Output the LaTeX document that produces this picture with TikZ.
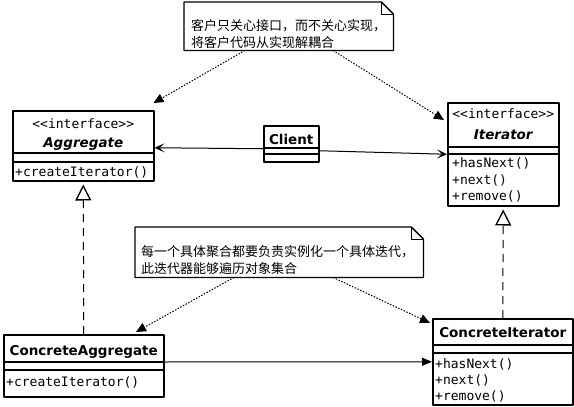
\documentclass[tikz,border=0pt]{standalone}
\usepackage{fontspec}
\setmainfont{DejaVu Sans}
\setmonofont{DejaVu Sans Mono}
\newfontfamily\cjk{Noto Sans CJK SC}
\usetikzlibrary{arrows.meta,positioning}
\tikzset{
  classbox/.style={draw, line width=1.5pt, anchor=north west, inner sep=0pt, fill=white},
  notebox/.style={anchor=north west, inner sep=0pt},
  member/.style={anchor=west, inner sep=0pt, font=\ttfamily\fontsize{13}{16}\selectfont},
  stereo/.style={inner sep=0pt, font=\ttfamily\fontsize{13}{16}\selectfont},
  cname/.style={inner sep=0pt, font=\bfseries\fontsize{13.5}{16}\selectfont},
  notetext/.style={anchor=west, inner sep=0pt, align=left, font=\cjk\fontsize{13}{17.5}\selectfont},
  assoc/.style={line width=1pt, -{Stealth[length=10pt,width=9pt,inset=5pt]}},
  navig/.style={line width=1pt, -{Triangle[length=10pt,width=8pt]}},
  depend/.style={line width=1pt, dash pattern=on 1.5pt off 1.5pt, -{Triangle[length=10pt,width=9pt]}},
  realize/.style={line width=1pt, dash pattern=on 8pt off 6pt, shorten >=3pt,
    -{Triangle[open,length=16pt,width=16pt,fill=white,line width=1.3pt]}},
}
\begin{document}
\begin{tikzpicture}[x=1pt, y=-1pt, line join=round]
\useasboundingbox (0,0) rectangle (574,407);
%Hai ghi chu
\node[notebox, minimum width=209pt, minimum height=48pt] (note1) at (184,2) {};
\draw[line width=1.3pt] (note1.north west) -- ([xshift=-12pt]note1.north east)
  -- ([yshift=-12pt]note1.north east) -- (note1.south east) -- (note1.south west) -- cycle;
\draw[line width=1pt] ([xshift=-12pt]note1.north east) |- ([yshift=-12pt]note1.north east);
\node[notetext] (note1-txt) at (191,34) {客户只关心接口，而不关心实现，\\将客户代码从实现解耦合};
\node[notebox, minimum width=288pt, minimum height=50pt] (note2) at (135,227) {};
\draw[line width=1.3pt] (note2.north west) -- ([xshift=-12pt]note2.north east)
  -- ([yshift=-12pt]note2.north east) -- (note2.south east) -- (note2.south west) -- cycle;
\draw[line width=1pt] ([xshift=-12pt]note2.north east) |- ([yshift=-12pt]note2.north east);
\node[notetext] (note2-txt) at (141,260) {每一个具体聚合都要负责实例化一个具体迭代，\\此迭代器能够遍历对象集合};
%Cac lop
\node[classbox, minimum width=141pt, minimum height=70pt] (agg) at (12,110) {};
\draw[line width=1.5pt] ([yshift=-43pt]agg.north west) -- ([yshift=-43pt]agg.north east);
\draw[line width=1.5pt] ([yshift=-52pt]agg.north west) -- ([yshift=-52pt]agg.north east);
\node[stereo] (agg-st) at ([yshift=-14pt]agg.north) {<<interface>>};
\node[cname] (agg-nm) at ([yshift=-34pt]agg.north) {\itshape Aggregate};
\node[member] (agg-m1) at ([xshift=3pt,yshift=-62pt]agg.north west) {+createIterator()};
\node[classbox, minimum width=111pt, minimum height=103pt] (itr) at (447,102) {};
\draw[line width=1.5pt] ([yshift=-45pt]itr.north west) -- ([yshift=-45pt]itr.north east);
\draw[line width=1.5pt] ([yshift=-52pt]itr.north west) -- ([yshift=-52pt]itr.north east);
\node[stereo] (itr-st) at ([yshift=-12pt]itr.north) {<<interface>>};
\node[cname] (itr-nm) at ([yshift=-33pt]itr.north) {\itshape Iterator};
\node[member] (itr-m1) at ([xshift=5pt,yshift=-61pt]itr.north west) {+hasNext()};
\node[member] (itr-m2) at ([xshift=5pt,yshift=-78pt]itr.north west) {+next()};
\node[member] (itr-m3) at ([xshift=5pt,yshift=-94pt]itr.north west) {+remove()};
\node[classbox, minimum width=55pt, minimum height=36pt] (cli) at (263,125) {};
\draw[line width=1.5pt] ([yshift=-23pt]cli.north west) -- ([yshift=-23pt]cli.north east);
\draw[line width=1.5pt] ([yshift=-29pt]cli.north west) -- ([yshift=-29pt]cli.north east);
\node[cname] (cli-nm) at ([yshift=-14pt]cli.north) {Client};
\node[classbox, minimum width=160pt, minimum height=62pt] (cagg) at (3,334) {};
\draw[line width=1.5pt] ([yshift=-28pt]cagg.north west) -- ([yshift=-28pt]cagg.north east);
\draw[line width=1.5pt] ([yshift=-36pt]cagg.north west) -- ([yshift=-36pt]cagg.north east);
\node[cname] (cagg-nm) at ([yshift=-18pt]cagg.north) {ConcreteAggregate};
\node[member] (cagg-m1) at ([xshift=3pt,yshift=-48pt]cagg.north west) {+createIterator()};
\node[classbox, minimum width=140pt, minimum height=86pt] (citr) at (432,318) {};
\draw[line width=1.5pt] ([yshift=-27pt]citr.north west) -- ([yshift=-27pt]citr.north east);
\draw[line width=1.5pt] ([yshift=-35pt]citr.north west) -- ([yshift=-35pt]citr.north east);
\node[cname] (citr-nm) at ([yshift=-15pt]citr.north) {ConcreteIterator};
\node[member] (citr-m1) at ([xshift=3pt,yshift=-46pt]citr.north west) {+hasNext()};
\node[member] (citr-m2) at ([xshift=3pt,yshift=-62pt]citr.north west) {+next()};
\node[member] (citr-m3) at ([xshift=3pt,yshift=-78pt]citr.north west) {+remove()};
%Cac duong noi
\draw[assoc] ([yshift=-5pt]cli.west) -- ([yshift=-2pt]agg.east);
\draw[assoc] ([yshift=-7pt]cli.east) -- (itr.west);
\draw[depend] ([xshift=61pt]note1.south west) -- ([xshift=-1pt,yshift=7pt]agg.north east);
\draw[depend] ([xshift=149pt]note1.south west) -- ([xshift=-3pt,yshift=-18pt]itr.north west);
\draw[depend] ([xshift=99pt]note2.south west) -- ([xshift=133pt,yshift=2pt]cagg.north west);
\draw[depend] ([xshift=198pt]note2.south west) -- ([xshift=-2pt,yshift=-5pt]citr.north west);
\draw[navig] ([yshift=-28pt]cagg.north east) -- (citr.west);
\draw[realize] (cagg.north) -- (agg.south);
\draw[realize] (citr.north) -- (itr.south);
\end{tikzpicture}
\end{document}
